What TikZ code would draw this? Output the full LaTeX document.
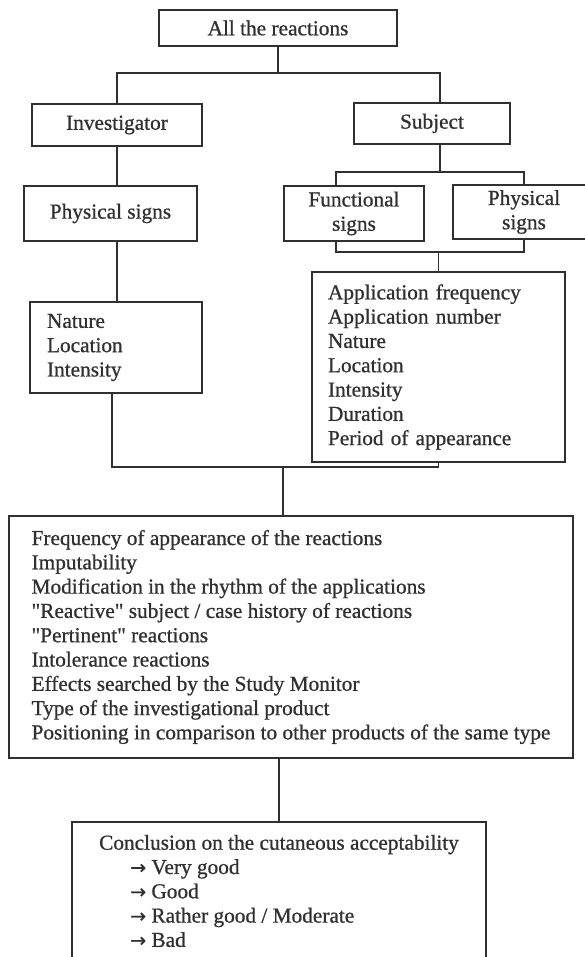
\documentclass[tikz,border=0pt]{standalone}
\usepackage{fontspec}
\setmainfont[FakeBold=0.8]{Liberation Serif}
\newfontfamily\arrowfont[FakeBold=0.8]{DejaVu Sans}
\newfontfamily\quotefont[FakeBold=0.8]{Liberation Serif}
\usepackage{tikz}
\definecolor{ink}{HTML}{303030}
\newcommand\boxfont[0]{\fontsize{21.3}{24.3}\selectfont}
\newcommand\grade[0]{\hspace*{31pt}{\arrowfont\fontsize{19}{24.3}\selectfont →}\ }
\newcommand\dq[0]{{\quotefont"}}
\tikzset{
  box/.style={draw=ink, line width=1.5pt, text=ink, inner sep=0pt, font=\boxfont},
  link/.style={draw=ink, line width=1.5pt}
}

\begin{document}
\begin{tikzpicture} [x=1pt, y=-1pt]

\useasboundingbox (0,0) rectangle (585,957);
\clip (0,0) rectangle (585,957);

\coordinate (split) at (278,73);
\coordinate (fork) at (440,172);
\coordinate (gather) at (438.5,252);
\coordinate (join) at (283,467);

\node[box, minimum width=238, minimum height=36] (all) at (278,28) {All the reactions};
\node[box, minimum width=170, minimum height=42] (inv) at (117,125) {Investigator};
\node[box, minimum width=156, minimum height=41] (subj) at (432,123.5) {Subject};
\node[box, minimum width=173, minimum height=55] (physL) at (110.5,213.5) {Physical signs};
\node[box, minimum width=140, minimum height=55, align=center] (func) at (354,213.5) {Functional\\signs};
\node[box, minimum width=142, minimum height=54, align=center] (physR) at (524,212) {Physical\\signs};
\node[box, minimum width=172, minimum height=91, inner xsep=17, text width=138, align=left] (nat) at (116,347.5) {Nature\\Location\\Intensity};
\node[box, minimum width=253, minimum height=190, inner xsep=16, text width=221, align=left] (list) at (438.5,367)
  {Application frequency\\Application number\\Nature\\Location\\Intensity\\Duration\\Period of appearance};
\node[box, minimum width=564, minimum height=242, align=left] (big) at (291,637)
  {Frequency of appearance of the reactions\\Imputability\\Modification in the rhythm of the applications\\
   \dq Reactive\dq{} subject / case history of reactions\\\dq Pertinent\dq{} reactions\\Intolerance reactions\\
   Effects searched by the Study Monitor\\Type of the investigational product\\
   Positioning in comparison to other products of the same type};
\node[box, minimum width=414, minimum height=138, align=left] (concl) at (279,891)
  {Conclusion on the cutaneous acceptability\\\grade Very good\\\grade Good\\
   \grade Rather good / Moderate\\\grade Bad};

\draw[link] (all.south) -- (split);
\draw[link] (inv.north) |- (split) -| ([xshift=8]subj.north);
\draw[link] (inv.south) -- (inv.south |- physL.north);
\draw[link] (inv.south |- physL.south) -- (inv.south |- nat.north);
\draw[link] ([xshift=8]subj.south) -- (fork);
\draw[link] ([xshift=-18]func.north) |- (fork) -| (physR.north);
\draw[link] ([xshift=-18]func.south) |- (gather) -| (physR.south);
\draw[link] (gather) -- (list.north);
\draw[link] ([xshift=-4]nat.south) |- (join) -| (list.south);
\draw[link] (join) -- (join |- big.north);
\draw[link] (concl.north |- big.south) -- (concl.north);

\end{tikzpicture}
\end{document}
